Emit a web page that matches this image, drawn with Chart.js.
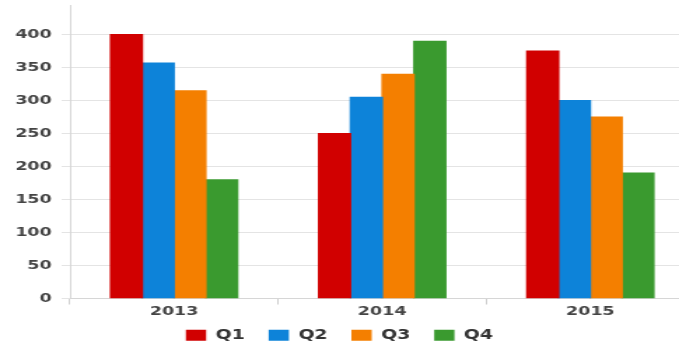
<!DOCTYPE html>
<html>
<head>
<meta charset="utf-8">
<script src="https://cdn.jsdelivr.net/npm/chart.js@4/dist/chart.umd.min.js"></script>
<style>
  html, body { margin: 0; padding: 0; background: #fff; overflow: hidden; }
  #wrap { width: 496px; height: 346px; transform: scaleX(1.4); transform-origin: 0 0; }
</style>
</head>
<body>
<div id="wrap"><canvas id="myChart" width="496" height="346"></canvas></div>
<script>
const years = ["2013", "2014", "2015"];
const q1 = [400, 250, 375];
const q2 = [357, 305, 300];
const q3 = [315, 340, 275];
const q4 = [180, 390, 190];
const yTicks = [0, 50, 100, 150, 200, 250, 300, 350, 400];
const yMax = 445;

const tickFont = { family: "DejaVu Sans", size: 12.5, weight: "bold" };

// legend keeps wide item spacing but takes less vertical room
const compactLegend = {
  id: "compactLegend",
  beforeInit(chart) {
    const fit = chart.legend.fit;
    chart.legend.fit = function () {
      fit.bind(chart.legend)();
      this.height = 24.5;
    };
  },
  afterLayout(chart) {
    chart.legend.top -= 8;
    chart.legend.bottom = chart.height;
    chart.legend.right = 485;
  },
};

const ctx = document.getElementById("myChart").getContext("2d");

new Chart(ctx, {
  type: "bar",
  data: {
    labels: years,
    datasets: [
      { label: "Q1", data: q1, backgroundColor: "#d10000" },
      { label: "Q2", data: q2, backgroundColor: "#0d83d9" },
      { label: "Q3", data: q3, backgroundColor: "#f47f00" },
      { label: "Q4", data: q4, backgroundColor: "#3a9a2f" },
    ],
  },
  options: {
    responsive: false,
    animation: false,
    devicePixelRatio: 1,
    layout: { padding: { top: 0, right: 0, left: 0, bottom: 2 } },
    datasets: {
      bar: { categoryPercentage: 0.61, barPercentage: 1.0, inflateAmount: 0.6 },
    },
    plugins: {
      legend: {
        position: "bottom",
        labels: {
          boxWidth: 14.5,
          boxHeight: 11,
          padding: 17,
          color: "#333",
          font: { family: "DejaVu Sans", size: 13.5, weight: "bold" },
        },
      },
      tooltip: { enabled: false },
    },
    scales: {
      x: {
        grid: {
          display: true,
          drawOnChartArea: false,
          tickLength: 6,
          color: "#cfcfcf",
        },
        border: { color: "#d6d6d6" },
        ticks: { color: "#444", font: tickFont, padding: 0 },
      },
      y: {
        min: 0,
        max: yMax,
        afterBuildTicks: (axis) => {
          axis.ticks = yTicks.map((v) => ({ value: v }));
        },
        afterFit: (axis) => {
          axis.width = 50;
          axis.paddingTop = 5;
        },
        grid: {
          color: "#e4e4e4",
          tickLength: 6,
        },
        border: { color: "#d6d6d6" },
        ticks: { color: "#444", font: tickFont, padding: 7 },
      },
    },
  },
  plugins: [compactLegend],
});
</script>
</body>
</html>
